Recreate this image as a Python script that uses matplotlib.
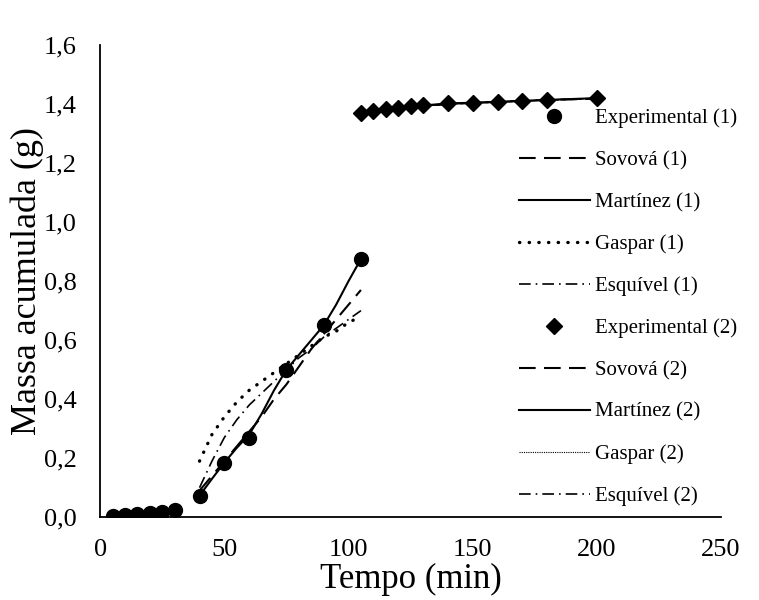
import numpy as np
import matplotlib.pyplot as plt

plt.rcParams['font.family'] = ['Liberation Serif', 'DejaVu Serif']

# Experimental (1)
t_exp1 = [5, 10, 15, 20, 25, 30, 40, 50, 60, 75, 90, 105]
m_exp1 = [0.003, 0.006, 0.010, 0.014, 0.018, 0.025, 0.073, 0.185, 0.27, 0.50, 0.65, 0.875]

# models (1)
t_mod1 = [40, 45, 50, 55, 60, 65, 70, 75, 80, 85, 90, 95, 100, 105]
sovova1 = [0.09, 0.14, 0.19, 0.24, 0.29, 0.34, 0.40, 0.45, 0.51, 0.57, 0.62, 0.67, 0.72, 0.77]
martinez1 = [0.073, 0.13, 0.185, 0.235, 0.28, 0.35, 0.43, 0.50, 0.55, 0.60, 0.65, 0.72, 0.80, 0.875]
gaspar1 = [0.19, 0.28, 0.34, 0.39, 0.43, 0.46, 0.49, 0.52, 0.55, 0.58, 0.61, 0.63, 0.66, 0.68]
esquivel1 = [0.10, 0.19, 0.27, 0.33, 0.38, 0.42, 0.46, 0.50, 0.54, 0.57, 0.61, 0.64, 0.67, 0.70]

# Experimental (2)
t_exp2 = [105, 110, 115, 120, 125, 130, 140, 150, 160, 170, 180, 200]
m_exp2 = [1.370, 1.376, 1.382, 1.388, 1.393, 1.398, 1.402, 1.405, 1.407, 1.410, 1.414, 1.420]

# models (2)
t_mod2 = [105, 120, 140, 160, 180, 200]
sovova2 = [1.370, 1.386, 1.400, 1.408, 1.414, 1.418]
martinez2 = [1.370, 1.388, 1.402, 1.407, 1.414, 1.420]
gaspar2 = [1.371, 1.387, 1.401, 1.408, 1.414, 1.419]
esquivel2 = [1.370, 1.387, 1.400, 1.407, 1.413, 1.419]

fig = plt.figure(figsize=(7.59, 6), dpi=100)
ax = fig.add_axes([0.132, 0.138, 0.818, 0.787])

ax.plot(t_exp1, m_exp1, 'o', color='black', markersize=10, label='Experimental (1)')
ax.plot(t_mod1, sovova1, color='black', lw=1.5, linestyle=(0, (8, 4)), label='Sovová (1)')
ax.plot(t_mod1, martinez1, color='black', lw=1.5, linestyle='-', label='Martínez (1)')
ax.plot(t_mod1, gaspar1, color='black', lw=2.4, linestyle=(0, (0.1, 2.8)), dash_capstyle='round', label='Gaspar (1)')
ax.plot(t_mod1, esquivel1, color='black', lw=1.2, linestyle=(0, (7, 3, 1, 3)), label='Esquível (1)')

ax.plot(t_exp2, m_exp2, 'D', color='black', markersize=8, label='Experimental (2)')
ax.plot(t_mod2, sovova2, color='black', lw=1.5, linestyle=(0, (8, 4)), label='Sovová (2)')
ax.plot(t_mod2, martinez2, color='black', lw=1.5, linestyle='-', label='Martínez (2)')
ax.plot(t_mod2, gaspar2, color='black', lw=0.8, linestyle=(0, (1, 1)), label='Gaspar (2)')
ax.plot(t_mod2, esquivel2, color='black', lw=1.2, linestyle=(0, (7, 3, 1, 3)), label='Esquível (2)')

ax.set_xlim(0, 250)
ax.set_ylim(0, 1.6)
ax.set_xticks([0, 50, 100, 150, 200, 250])
yt = np.arange(0, 1.61, 0.2)
ax.set_yticks(yt)
ax.set_yticklabels([f'{v:.1f}'.replace('.', ',') for v in yt])
ax.tick_params(length=0, labelsize=19)
ax.tick_params(axis='y', pad=17)
ax.tick_params(axis='x', pad=16)
ax.spines['top'].set_visible(False)
ax.spines['right'].set_visible(False)
ax.spines['left'].set_linewidth(1.3)
ax.spines['bottom'].set_linewidth(1.3)

ax.set_xlabel('Tempo (min)', fontsize=25, labelpad=1)
ax.set_ylabel('Massa acumulada (g)', fontsize=26, labelpad=0)

leg = ax.legend(loc='upper left', bbox_to_anchor=(0.644, 0.905), frameon=False,
                fontsize=15, handlelength=3.4, labelspacing=1.07, handletextpad=0.25)

fig.savefig('out.png', dpi=100)
